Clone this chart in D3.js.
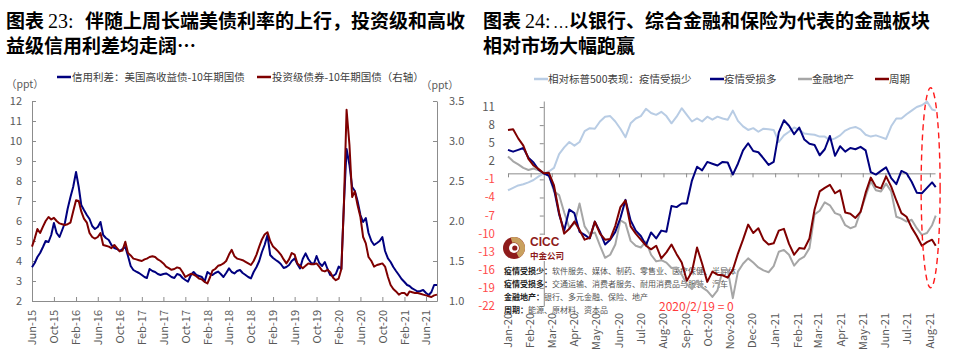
<!DOCTYPE html>
<html><head><meta charset="utf-8">
<script src="https://cdn.jsdelivr.net/npm/d3@7"></script>
<style>
body{margin:0;background:#fff;}
svg{display:block;}
</style></head><body>
<svg id="c" width="955" height="360"></svg>
<script>
// ---------------- LEFT CHART DATA ----------------
const leftDates = [
"2015-06-01","2015-06-16","2015-07-01","2015-07-16","2015-08-01","2015-08-16","2015-09-01","2015-09-16","2015-10-01","2015-10-16","2015-11-01","2015-11-16","2015-12-01","2015-12-16",
"2016-01-01","2016-01-16","2016-02-01","2016-02-16","2016-03-01","2016-03-16","2016-04-01","2016-04-16","2016-05-01","2016-05-16","2016-06-01","2016-06-16","2016-07-01","2016-07-16","2016-08-01","2016-08-16","2016-09-01","2016-09-16","2016-10-01","2016-10-16","2016-11-01","2016-11-16","2016-12-01","2016-12-16",
"2017-01-01","2017-01-16","2017-02-01","2017-02-16","2017-03-01","2017-03-16","2017-04-01","2017-04-16","2017-05-01","2017-05-16","2017-06-01","2017-06-16","2017-07-01","2017-07-16","2017-08-01","2017-08-16","2017-09-01","2017-09-16","2017-10-01","2017-10-16","2017-11-01","2017-11-16","2017-12-01","2017-12-16",
"2018-01-01","2018-01-16","2018-02-01","2018-02-16","2018-03-01","2018-03-16","2018-04-01","2018-04-16","2018-05-01","2018-05-16","2018-06-01","2018-06-16","2018-07-01","2018-07-16","2018-08-01","2018-08-16","2018-09-01","2018-09-16","2018-10-01","2018-10-16","2018-11-01","2018-11-16","2018-12-01","2018-12-16",
"2019-01-01","2019-01-16","2019-02-01","2019-02-16","2019-03-01","2019-03-16","2019-04-01","2019-04-16","2019-05-01","2019-05-16","2019-06-01","2019-06-16","2019-07-01","2019-07-16","2019-08-01","2019-08-16","2019-09-01","2019-09-16","2019-10-01","2019-10-16","2019-11-01","2019-11-16","2019-12-01","2019-12-16",
"2020-01-01","2020-01-16","2020-02-01","2020-02-16","2020-03-01","2020-03-16","2020-04-01","2020-04-16","2020-05-01","2020-05-16","2020-06-01","2020-06-16","2020-07-01","2020-07-16","2020-08-01","2020-08-16","2020-09-01","2020-09-16","2020-10-01","2020-10-16","2020-11-01","2020-11-16","2020-12-01","2020-12-16",
"2021-01-01","2021-01-16","2021-02-01","2021-02-16","2021-03-01","2021-03-16","2021-04-01","2021-04-16","2021-05-01","2021-05-16","2021-06-01","2021-06-16","2021-07-01","2021-07-16","2021-08-01"];
// 信用利差：美国高收益债-10年期国债 (left axis, ppt)
const hySpread = [
3.69,3.9,4.2,4.4,4.7,5.0,4.95,5.3,5.9,5.4,
5.2,5.55,5.9,6.6,7.2,7.7,8.45,7.7,6.8,6.55,
6.3,6.1,5.75,5.6,5.7,5.95,5.3,5.15,5.05,4.8,
4.65,4.6,4.5,4.6,4.7,4.25,3.75,3.55,3.47,3.4,
3.3,3.2,3.15,3.6,3.5,3.45,3.35,3.3,3.35,3.38,
3.3,3.2,3.15,3.35,3.3,3.15,3.05,2.97,3.3,3.45,
3.3,3.25,3.2,2.97,3.45,3.35,3.3,3.4,3.47,3.35,
3.2,3.4,3.63,3.45,3.38,3.5,3.55,3.4,3.3,3.2,
3.13,3.45,3.7,4.0,4.45,4.8,5.3,4.3,4.15,4.05,
3.97,3.85,3.65,3.7,3.8,4.0,4.13,3.85,3.63,4.1,
4.38,4.1,3.9,3.85,4.25,3.9,3.75,3.95,3.6,3.3,
3.25,3.35,3.72,3.6,6.8,9.6,8.8,7.7,7.5,7.0,
6.3,5.95,6.15,5.4,5.0,4.8,4.9,5.0,5.2,4.5,
4.13,3.95,3.7,3.5,3.3,3.1,2.95,2.8,2.75,2.63,
2.55,2.47,2.5,2.55,2.4,2.3,2.45,2.8,2.8];
// 投资级债券-10年期国债 (right axis, ppt)
const igSpread = [
1.68,1.78,1.9,1.85,1.93,2.0,2.05,2.02,2.04,2.0,
1.97,1.96,1.95,1.96,1.98,2.12,2.26,2.25,2.12,2.03,
1.98,1.85,1.8,1.78,1.8,1.85,1.7,1.69,1.68,1.66,
1.7,1.66,1.62,1.63,1.74,1.6,1.57,1.53,1.52,1.51,
1.5,1.52,1.53,1.55,1.56,1.55,1.52,1.5,1.47,1.43,
1.41,1.39,1.4,1.42,1.41,1.36,1.3,1.32,1.34,1.33,
1.31,1.28,1.27,1.24,1.22,1.3,1.38,1.4,1.44,1.45,
1.47,1.5,1.58,1.64,1.56,1.53,1.52,1.51,1.49,1.47,
1.45,1.5,1.58,1.68,1.77,1.83,1.86,1.75,1.68,1.65,
1.62,1.58,1.52,1.47,1.52,1.6,1.58,1.47,1.44,1.41,
1.44,1.47,1.46,1.46,1.47,1.43,1.38,1.37,1.39,1.36,
1.29,1.26,1.28,1.4,2.2,3.39,2.95,2.3,2.37,2.2,
2.05,1.8,1.72,1.55,1.5,1.43,1.45,1.46,1.47,1.43,
1.3,1.2,1.15,1.12,1.08,1.1,1.1,1.07,1.12,1.11,
1.1,1.1,1.09,1.08,1.07,1.06,1.05,1.07,1.08];
const leftYTicks = [2,3,4,5,6,7,8,9,10,11,12];
const rightYTicks = [1.0,1.5,2.0,2.5,3.0,3.5];
const leftXTickDates = ["2015-06-01","2015-10-01","2016-02-01","2016-06-01","2016-10-01","2017-02-01","2017-06-01","2017-10-01","2018-02-01","2018-06-01","2018-10-01","2019-02-01","2019-06-01","2019-10-01","2020-02-01","2020-06-01","2020-10-01","2021-02-01","2021-06-01"];
const leftXTickLabels = ["Jun-15","Oct-15","Feb-16","Jun-16","Oct-16","Feb-17","Jun-17","Oct-17","Feb-18","Jun-18","Oct-18","Feb-19","Jun-19","Oct-19","Feb-20","Jun-20","Oct-20","Feb-21","Jun-21"];

// ---------------- RIGHT CHART DATA ----------------
const rightDates = [
"2020-01-01","2020-01-08","2020-01-15","2020-01-22","2020-01-29","2020-02-05","2020-02-12","2020-02-19","2020-02-26","2020-03-04",
"2020-03-11","2020-03-18","2020-03-25","2020-04-01","2020-04-08","2020-04-15","2020-04-22","2020-04-29","2020-05-06","2020-05-13",
"2020-05-20","2020-05-27","2020-06-03","2020-06-10","2020-06-17","2020-06-24","2020-07-01","2020-07-08","2020-07-15","2020-07-22",
"2020-07-29","2020-08-05","2020-08-12","2020-08-19","2020-08-26","2020-09-02","2020-09-09","2020-09-16","2020-09-23","2020-09-30",
"2020-10-07","2020-10-14","2020-10-21","2020-10-28","2020-11-04","2020-11-11","2020-11-18","2020-11-25","2020-12-02","2020-12-09",
"2020-12-16","2020-12-23","2020-12-30","2021-01-06","2021-01-13","2021-01-20","2021-01-27","2021-02-03","2021-02-10","2021-02-17",
"2021-02-24","2021-03-03","2021-03-10","2021-03-17","2021-03-24","2021-03-31","2021-04-07","2021-04-14","2021-04-21","2021-04-28",
"2021-05-05","2021-05-12","2021-05-19","2021-05-26","2021-06-02","2021-06-09","2021-06-16","2021-06-23","2021-06-30","2021-07-07",
"2021-07-14","2021-07-21","2021-07-28","2021-08-04","2021-08-09"];
const lessHurt = [
-2.8,-2.4,-2.0,-1.8,-1.5,-1.1,-0.5,0,0.3,0.9,
3.2,4.3,5.2,4.6,5.2,7.0,7.5,7.4,8.6,9.4,
9.5,8.6,7.4,6.0,8.3,9.1,9.5,10.7,10.0,9.7,
10.2,9.5,8.3,9.4,10.8,9.7,8.6,9.1,8.6,9.4,
8.9,9.4,9.1,8.9,10.4,8.7,7.8,7.2,7.5,6.9,
7.4,7.3,7.2,5.2,6.3,6.9,7.6,7.2,6.6,6.5,
6.4,6.1,6.1,5.5,5.8,6.3,7.1,7.5,7.7,7.3,
6.4,6.1,6.3,6.0,5.7,7.8,9.1,9.1,9.8,10.4,
11.0,11.3,11.9,10.6,10.4];
const moreHurt = [
3.9,3.6,3.9,4.2,2.6,1.8,0.6,0,-0.4,-2.6,
-6.8,-9.5,-6.0,-6.6,-9.7,-10.2,-10.8,-8.0,-9.7,-11.8,
-11.0,-9.7,-7.4,-4.4,-7.8,-9.5,-10.4,-11.9,-9.8,-10.8,
-9.5,-9.7,-5.4,-5.6,-5.0,-5.0,-1.2,1.1,0.5,1.9,
1.6,1.3,1.9,1.8,-0.2,1.6,3.8,5.0,3.7,3.5,
2.5,1.4,1.9,6.8,8.8,7.9,6.5,7.6,5.6,4.9,
4.7,3.0,4.0,6.2,2.9,4.5,3.6,4.2,4.0,4.4,
3.8,0.2,-0.2,0.4,1.0,-0.8,-1.8,0.4,0.0,-1.4,
-3.2,-3.3,-2.4,-1.5,-2.3];
const financials = [
2.8,2.0,1.5,0.9,0.55,0.8,0.5,0,-0.2,-3.0,
-3.6,-6.5,-9.0,-8.3,-5.0,-8.8,-10.1,-9.8,-12.0,-14.0,
-13.5,-11.8,-7.8,-8.3,-11.2,-12.0,-12.3,-11.3,-13.5,-14.6,
-14.4,-14.8,-15.7,-15.6,-16.8,-18.4,-19.2,-17.8,-18.9,-19.5,
-20.5,-19.4,-16.1,-16.0,-20.7,-16.3,-15.0,-14.1,-14.8,-15.6,
-16.1,-16.4,-15.4,-13.0,-12.7,-13.5,-15.3,-14.3,-13.8,-12.4,
-6.8,-6.2,-4.8,-5.3,-6.6,-6.9,-8.6,-9.1,-8.8,-6.3,
-3.8,-1.3,-2.8,-3.0,-1.7,-3.0,-7.2,-7.5,-8.0,-7.7,
-9.1,-10.2,-9.9,-8.6,-7.0];
const cyclicals = [
7.2,7.3,5.8,4.6,2.4,1.3,0.7,0,0.1,-2.0,
-6.5,-10.0,-9.2,-8.0,-9.4,-11.0,-10.7,-8.0,-10.0,-11.0,
-10.9,-8.7,-5.6,-4.5,-8.8,-10.0,-11.0,-12.0,-12.6,-12.0,
-14.1,-13.1,-11.8,-13.4,-14.8,-17.8,-16.3,-12.3,-15.0,-18.0,
-16.3,-16.8,-16.9,-17.3,-16.0,-13.3,-11.0,-8.5,-9.9,-9.1,
-11.0,-11.8,-11.6,-9.5,-9.2,-11.7,-13.5,-12.4,-12.5,-10.8,
-6.0,-3.0,-2.4,-1.9,-3.3,-2.8,-6.5,-6.7,-7.4,-6.4,
-3.2,-0.7,-2.2,-2.5,-0.5,-2.2,-4.5,-6.6,-7.2,-9.0,
-10.4,-12.0,-11.4,-11.0,-12.0];
const rYTicks = [11,8,5,2,-1,-4,-7,-10,-13,-16,-19,-22];
const rXTickDates = ["2020-01-01","2020-02-01","2020-03-01","2020-04-01","2020-05-01","2020-06-01","2020-07-01","2020-08-01","2020-09-01","2020-10-01","2020-11-01","2020-12-01","2021-01-01","2021-02-01","2021-03-01","2021-04-01","2021-05-01","2021-06-01","2021-07-01","2021-08-01"];
const rXTickLabels = ["Jan-20","Feb-20","Mar-20","Apr-20","May-20","Jun-20","Jul-20","Aug-20","Sep-20","Oct-20","Nov-20","Dec-20","Jan-21","Feb-21","Mar-21","Apr-21","May-21","Jun-21","Jul-21","Aug-21"];
const baseDate = "2020-02-19";
const noteLines = [
  ["疫情受损少：","软件服务、媒体、制药、零售业、医疗保健、半导体"],
  ["疫情受损多：","交通运输、消费者服务、耐用消费品与服装、汽车"],
  ["金融地产：","银行、多元金融、保险、地产"],
  ["周期：","能源、原材料、资本品"]
];

// ---------------- DRAW ----------------
const FONT = '"Noto Sans CJK SC","Noto Sans",sans-serif';
const SERIF = '"Liberation Serif","DejaVu Serif",serif';
const parse = d3.timeParse("%Y-%m-%d");
const svg = d3.select("#c").attr("font-family", FONT);
const AX = "#8c8c8c", TXT = "#595959";

// titles: parts placed at absolute x
function title(parts, l2x, l2) {
  const t = svg.append("text").attr("y", 28).attr("font-size", 19).attr("fill", "#000");
  parts.forEach(p => {
    const s = t.append("tspan").attr("x", p.x).text(p.t);
    if (p.serif) s.attr("font-family", SERIF).attr("font-weight", 400).attr("font-size", p.fs || 20);
    else s.attr("font-weight", 700);
  });
  svg.append("text").attr("x", l2x).attr("y", 53).attr("font-size", 19).attr("font-weight", 700).attr("fill", "#000").text(l2);
}
title([{x: 6, t: "图表"}, {x: 48, t: "23:", serif: true}, {x: 85, t: "伴随上周长端美债利率的上行，投资级和高收"}], 6, "益级信用利差均走阔…");
title([{x: 483, t: "图表"}, {x: 525, t: "24:", serif: true}, {x: 553, t: "…", serif: true, fs: 16}, {x: 569, t: "以银行、综合金融和保险为代表的金融板块"}], 483, "相对市场大幅跑赢");

function styleAxis(g) {
  g.attr("font-family", FONT).attr("font-size", 11);
  g.selectAll("path.domain").attr("stroke", AX);
  g.selectAll(".tick line").attr("stroke", AX);
  g.selectAll(".tick text").attr("fill", TXT);
}

// ===== Left chart =====
const xL = d3.scaleTime().domain([parse("2015-06-01"), parse("2021-08-01")]).range([32, 437]);
const yL = d3.scaleLinear().domain([2, 12]).range([301, 101]);
const yL2 = d3.scaleLinear().domain([1, 3.5]).range([301, 101]);

svg.append("g").attr("transform", "translate(32,0)")
  .call(d3.axisLeft(yL).tickValues(leftYTicks).tickSizeInner(-4).tickSizeOuter(0).tickPadding(10))
  .call(styleAxis);
svg.append("g").attr("transform", "translate(437,0)")
  .call(d3.axisRight(yL2).tickValues(rightYTicks).tickFormat(d3.format(".1f")).tickSizeInner(-4).tickSizeOuter(0).tickPadding(12))
  .call(styleAxis);
const gxL = svg.append("g").attr("transform", "translate(0,301)")
  .call(d3.axisBottom(xL).tickValues(leftXTickDates.map(parse)).tickFormat((d, i) => leftXTickLabels[i]).tickSizeInner(-4).tickSizeOuter(0))
  .call(styleAxis);
gxL.selectAll(".tick text").attr("y", 0).attr("x", -9).attr("dy", "0.35em")
  .attr("transform", "rotate(-90)").attr("text-anchor", "end");

svg.append("text").attr("x", 6).attr("y", 88).attr("font-size", 10.5).attr("fill", TXT).text("（ppt）");
svg.append("text").attr("x", 421).attr("y", 89).attr("font-size", 10.5).attr("fill", TXT).text("（ppt）");

const leftData = leftDates.map((d, i) => ({ date: parse(d), hy: hySpread[i], ig: igSpread[i] }));
svg.append("path").datum(leftData).attr("fill", "none").attr("stroke", "#00007f").attr("stroke-width", 2)
  .attr("stroke-linejoin", "round")
  .attr("d", d3.line().x(d => xL(d.date)).y(d => yL(d.hy)));
svg.append("path").datum(leftData).attr("fill", "none").attr("stroke", "#7f0000").attr("stroke-width", 2)
  .attr("stroke-linejoin", "round")
  .attr("d", d3.line().x(d => xL(d.date)).y(d => yL2(d.ig)));

// left legend
[[57, "#00007f", "信用利差：美国高收益债-10年期国债"], [257, "#7f0000", "投资级债券-10年期国债（右轴）"]].forEach(([x, c, t]) => {
  svg.append("line").attr("x1", x).attr("x2", x + 14).attr("y1", 77).attr("y2", 77).attr("stroke", c).attr("stroke-width", 2.5);
  svg.append("text").attr("x", x + 15).attr("y", 81).attr("font-size", 10.5).attr("fill", "#404040").text(t);
});

// ===== Right chart =====
const xR = d3.scaleTime().domain([parse("2020-01-01"), parse("2021-08-08")]).range([508, 935]);
const yR = d3.scaleLinear().domain([-22, 12]).range([306, 101]);
const x0 = xR(parse(baseDate));

// axes
svg.append("g").attr("transform", `translate(0,${yR(0)})`)
  .call(d3.axisBottom(xR).tickValues(rXTickDates.map(parse)).tickFormat("").tickSizeInner(4).tickSizeOuter(0))
  .call(styleAxis);
svg.append("g").attr("transform", `translate(${x0},0)`)
  .call(d3.axisLeft(yR).tickValues(rYTicks).tickFormat("").tickSizeInner(4).tickSizeOuter(0))
  .call(styleAxis);
svg.append("g").selectAll("text").data(rYTicks).join("text")
  .attr("x", 495).attr("y", d => yR(d)).attr("dy", "0.35em").attr("text-anchor", "end")
  .attr("font-size", 11.5).attr("fill", d => d < 0 ? "#ff4a4a" : TXT).text(d => d);
svg.append("g").selectAll("text").data(rXTickDates).join("text")
  .attr("transform", d => `translate(${xR(parse(d))},313) rotate(-90)`)
  .attr("dy", "0.35em").attr("text-anchor", "end").attr("font-size", 11).attr("fill", TXT)
  .text((d, i) => rXTickLabels[i]);

// notes & logo (beneath the lines, logo on a white plate)
svg.append("rect").attr("x", 500).attr("y", 235).attr("width", 68).attr("height", 26).attr("fill", "#fff");
const logo = svg.append("g").attr("transform", "translate(514,248)");
logo.append("circle").attr("r", 11).attr("fill", "#8e1b1b");
logo.append("path").attr("d", d3.arc().innerRadius(5.5).outerRadius(11).startAngle(-0.1 * Math.PI).endAngle(0.85 * Math.PI)()).attr("fill", "#c9a15f");
logo.append("circle").attr("r", 5).attr("fill", "#fff");
logo.append("circle").attr("r", 2.6).attr("cx", 0.8).attr("fill", "#8e1b1b");
svg.append("text").attr("x", 530).attr("y", 246).attr("font-size", 12).attr("font-weight", 700).attr("fill", "#8e1b1b").attr("font-family", '"Liberation Sans",Arial,sans-serif').text("CICC");
svg.append("text").attr("x", 530).attr("y", 259).attr("font-size", 8.5).attr("font-weight", 700).attr("fill", "#8e1b1b").text("中金公司");

noteLines.forEach((ln, i) => {
  const t = svg.append("text").attr("x", 504).attr("y", 274 + i * 13).attr("font-size", 8);
  t.append("tspan").attr("font-weight", 700).attr("fill", "#222").text(ln[0]);
  t.append("tspan").attr("fill", "#555").text(ln[1]);
});
svg.append("text").attr("x", 659).attr("y", 311).attr("font-size", 12).attr("fill", "#ff3c3c").text("2020/2/19 = 0");

const rData = rightDates.map((d, i) => ({ date: parse(d), a: lessHurt[i], b: moreHurt[i], c: financials[i], e: cyclicals[i] }));
const rSeries = [["a", "#b8cce4"], ["c", "#a6a6a6"], ["b", "#00007f"], ["e", "#7f0000"]];
rSeries.forEach(([k, col]) => {
  svg.append("path").datum(rData).attr("fill", "none").attr("stroke", col).attr("stroke-width", 2)
    .attr("stroke-linejoin", "round")
    .attr("d", d3.line().x(d => xR(d.date)).y(d => yR(d[k])));
});

// right legend
[[534, "#b8cce4", "相对标普500表现：疫情受损少"], [710, "#00007f", "疫情受损多"], [798, "#a6a6a6", "金融地产"], [875, "#7f0000", "周期"]].forEach(([x, c, t]) => {
  svg.append("line").attr("x1", x).attr("x2", x + 14).attr("y1", 79).attr("y2", 79).attr("stroke", c).attr("stroke-width", 2.5);
  svg.append("text").attr("x", x + 14).attr("y", 83).attr("font-size", 10.5).attr("fill", "#404040").text(t);
});

// red dashed ellipse highlighting latest period
svg.append("ellipse").attr("cx", xR(parse("2021-08-02"))).attr("cy", yR(-2.4)).attr("rx", 9.5).attr("ry", 100)
  .attr("fill", "none").attr("stroke", "#ff1a1a").attr("stroke-width", 1.4).attr("stroke-dasharray", "6,4");
</script>
</body></html>
